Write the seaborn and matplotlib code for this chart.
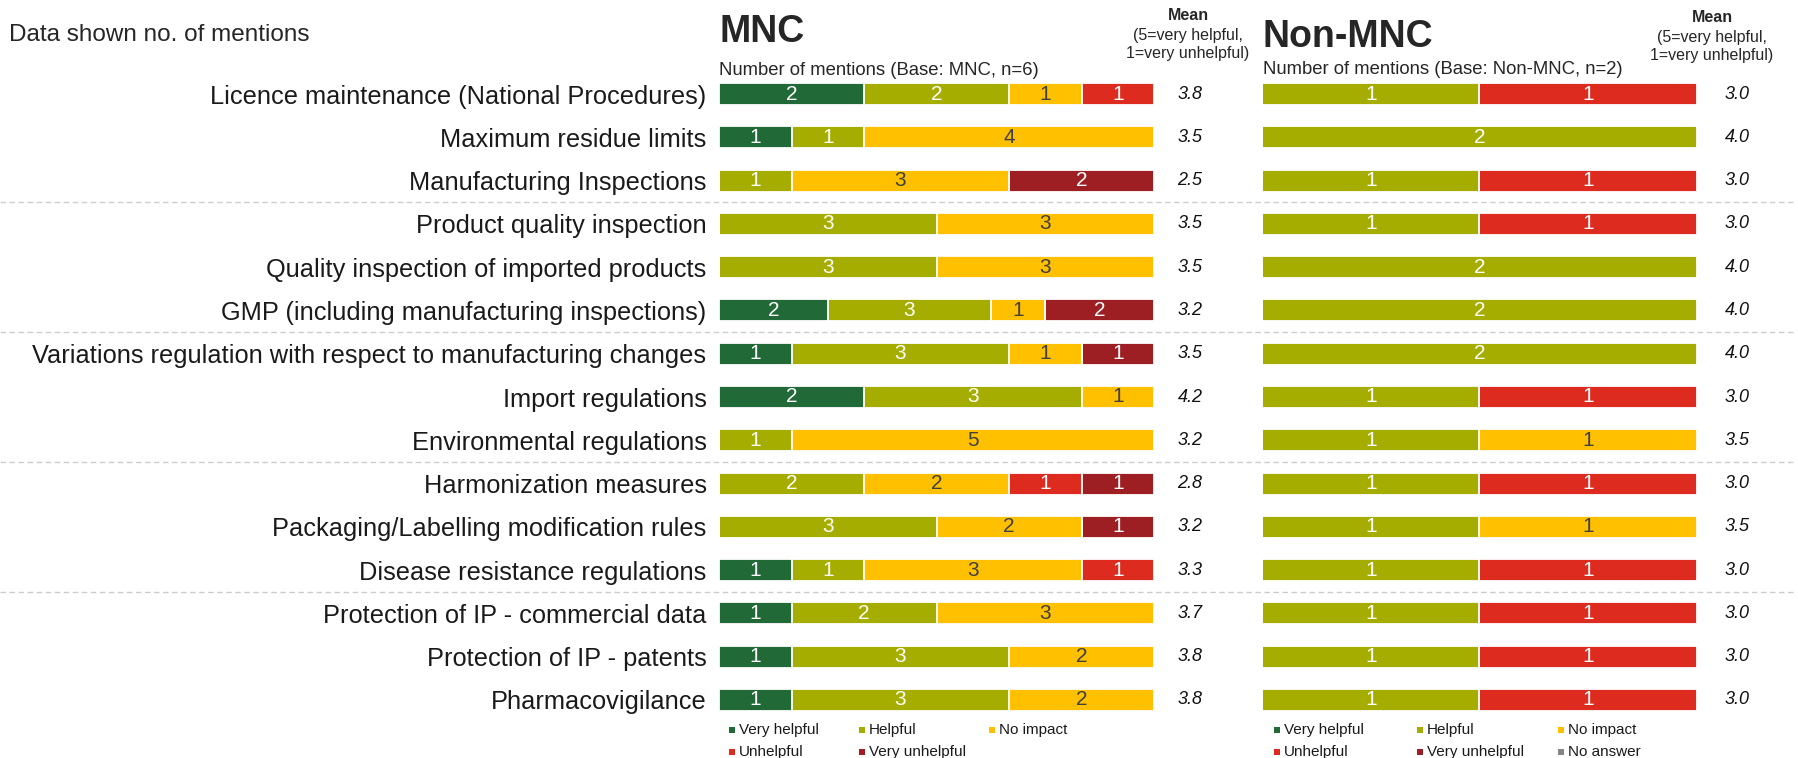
import numpy as np
import pandas as pd
import matplotlib
matplotlib.use("Agg")
import matplotlib.pyplot as plt
import matplotlib.transforms as mtransforms
from matplotlib.patches import Rectangle
import seaborn as sns

# global settings
sns.set_style("white")
plt.rcParams['font.family'] = ['Liberation Sans', 'DejaVu Sans']

topics = [
    "Licence maintenance (National Procedures)",
    "Maximum residue limits",
    "Manufacturing Inspections",
    "Product quality inspection",
    "Quality inspection of imported products",
    "GMP (including manufacturing inspections)",
    "Variations regulation with respect to manufacturing changes",
    "Import regulations",
    "Environmental regulations",
    "Harmonization measures",
    "Packaging/Labelling modification rules",
    "Disease resistance regulations",
    "Protection of IP - commercial data",
    "Protection of IP - patents",
    "Pharmacovigilance",
]

answers = ["Very helpful", "Helpful", "No impact", "Unhelpful", "Very unhelpful", "No answer"]
colors = ["#216A37", "#A5AE00", "#FFC000", "#DE2B20", "#9E1F23", "#8A8582"]
text_colors = ["white", "white", "#404040", "white", "white", "white"]

# counts per topic: very helpful, helpful, no impact, unhelpful, very unhelpful
mnc_very_helpful = [2, 1, 0, 0, 0, 2, 1, 2, 0, 0, 0, 1, 1, 1, 1]
mnc_helpful = [2, 1, 1, 3, 3, 3, 3, 3, 1, 2, 3, 1, 2, 3, 3]
mnc_no_impact = [1, 4, 3, 3, 3, 1, 1, 1, 5, 2, 2, 3, 3, 2, 2]
mnc_unhelpful = [1, 0, 0, 0, 0, 0, 0, 0, 0, 1, 0, 1, 0, 0, 0]
mnc_very_unhelpful = [0, 0, 2, 0, 0, 2, 1, 0, 0, 1, 1, 0, 0, 0, 0]
mnc_mean = [3.8, 3.5, 2.5, 3.5, 3.5, 3.2, 3.5, 4.2, 3.2, 2.8, 3.2, 3.3, 3.7, 3.8, 3.8]

non_very_helpful = [0] * 15
non_helpful = [1, 2, 1, 1, 2, 2, 2, 1, 1, 1, 1, 1, 1, 1, 1]
non_no_impact = [0, 0, 0, 0, 0, 0, 0, 0, 1, 0, 1, 0, 0, 0, 0]
non_unhelpful = [1, 0, 1, 1, 0, 0, 0, 1, 0, 1, 0, 1, 1, 1, 1]
non_very_unhelpful = [0] * 15
non_mean = [3.0, 4.0, 3.0, 3.0, 4.0, 4.0, 4.0, 3.0, 3.5, 3.0, 3.5, 3.0, 3.0, 3.0, 3.0]


def draw_stacked(ax, counts, means, mean_x):
    counts = np.array(counts, dtype=float).T          # rows x answers
    shares = counts / counts.sum(axis=1, keepdims=True)
    cum = np.cumsum(shares, axis=1)
    # draw cumulative bars from the longest to the shortest
    for k in reversed(range(counts.shape[1])):
        sns.barplot(x=cum[:, k], y=topics, color=colors[k], orient="h", ax=ax,
                    width=0.51, edgecolor="white", linewidth=1.3, saturation=1)
    for i in range(counts.shape[0]):
        for k in range(counts.shape[1]):
            if counts[i, k] > 0:
                ax.text(cum[i, k] - shares[i, k] / 2, i, f"{int(counts[i, k])}",
                        ha="center", va="center", fontsize=15, color=text_colors[k])
    trans = mtransforms.blended_transform_factory(ax.transAxes, ax.transData)
    for i, m in enumerate(means):
        ax.text(mean_x, i, f"{m:.1f}", transform=trans, ha="center", va="center",
                fontsize=13, style="italic", color="#111111")
    ax.set_xlim(0, 1)
    ax.set_ylim(len(topics) - 0.5, -0.5)
    ax.set_xlabel("")
    ax.set_ylabel("")
    ax.set_xticks([])
    ax.set_facecolor("none")
    sns.despine(ax=ax, left=True, bottom=True)


W, H = 1799, 758
fig = plt.figure(figsize=(W / 100, H / 100), dpi=100)
ax1 = fig.add_axes([719 / W, 1 - 721.6 / H, 435 / W, 649.2 / H])
ax2 = fig.add_axes([1262 / W, 1 - 721.6 / H, 435 / W, 649.2 / H])

draw_stacked(ax1, [mnc_very_helpful, mnc_helpful, mnc_no_impact, mnc_unhelpful, mnc_very_unhelpful],
             mnc_mean, (1190 - 719) / 435)
draw_stacked(ax2, [non_very_helpful, non_helpful, non_no_impact, non_unhelpful, non_very_unhelpful],
             non_mean, (1737 - 1262) / 435)

ax1.set_yticks(range(len(topics)))
ax1.set_yticklabels(topics, fontsize=18.3, color="#1a1a1a")
ax1.tick_params(axis="y", length=0, pad=9)
ax2.set_yticks([])

# dashed group separators
for y in [2.5, 5.5, 8.5, 11.5]:
    ax1.axhline(y, xmin=-719 / 435, xmax=(1793 - 719) / 435, color="#CCCCCC",
                lw=1, ls=(0, (4, 2.5)), clip_on=False, zorder=0)

# header texts
fig.text(9 / W, 1 - 35 / H, "Data shown no. of mentions", fontsize=17.5, va="center")
fig.text(719 / W, 1 - 42 / H, "MNC", fontsize=27, weight="bold", va="baseline")
fig.text(1263 / W, 1 - 47 / H, "Non-MNC", fontsize=27, weight="bold", va="baseline")
fig.text(719 / W, 1 - 75 / H, "Number of mentions (Base: MNC, n=6)", fontsize=13.3, va="baseline")
fig.text(1263 / W, 1 - 74 / H, "Number of mentions (Base: Non-MNC, n=2)", fontsize=13.3, va="baseline")
for cx, top in [(1188, 20), (1712, 22)]:
    fig.text(cx / W, 1 - top / H, "Mean", fontsize=11.5, weight="bold", ha="center", va="baseline")
    fig.text(cx / W, 1 - (top + 20) / H, "(5=very helpful,", fontsize=11.5, ha="center", va="baseline")
    fig.text(cx / W, 1 - (top + 38) / H, "1=very unhelpful)", fontsize=11.5, ha="center", va="baseline")


def draw_legend(col_x, n_items):
    rows_y = [730, 752]
    for j in range(n_items):
        x = col_x[j % 3]
        y = rows_y[j // 3]
        fig.add_artist(Rectangle(((x) / W, 1 - (y + 3) / H), 6 / W, 6 / H,
                                 transform=fig.transFigure, color=colors[j], lw=0))
        fig.text((x + 10) / W, 1 - y / H, answers[j], fontsize=11, va="center",
                 color="#1a1a1a")


draw_legend([729, 859, 989], 5)
draw_legend([1274, 1417, 1558], 6)

fig.savefig("out.png", dpi=100)
